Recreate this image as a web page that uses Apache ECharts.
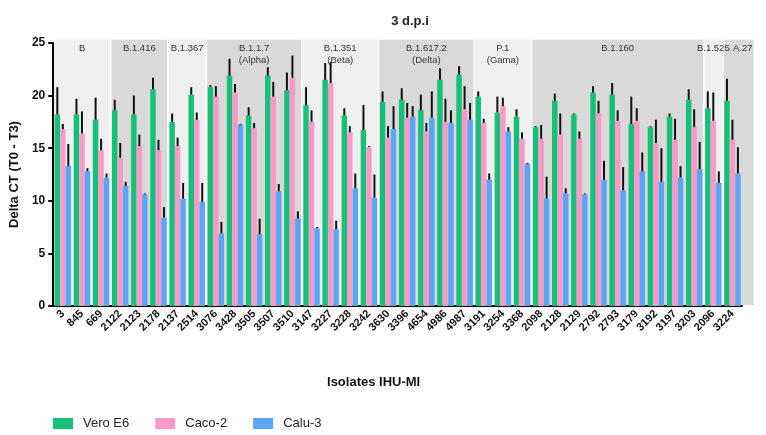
<!DOCTYPE html>
<html><head><meta charset="utf-8">
<script src="https://cdn.jsdelivr.net/npm/echarts@6/dist/echarts.min.js"></script>
<style>html,body{margin:0;padding:0;background:#fff}#c{width:766px;height:435px}</style>
</head><body><div id="c"></div>
<script>
const categories = ['3','845','669','2122','2123','2178','2137','2514','3076','3428','3505','3507','3510','3147','3227','3228','3242','3630','3396','4654','4986','4987','3191','3254','3368','2098','2128','2129','2792','2793','3179','3192','3197','3203','2096','3224'];
const vero     = [18.2,18.2,17.7,18.6,18.2,20.6,17.5,20.1,20.8,21.9,18.1,21.9,20.5,19.1,21.5,18.1,16.7,19.4,19.6,18.6,21.5,22.0,19.9,18.4,18.0,17.0,19.5,18.2,20.3,20.1,17.3,17.0,18.0,19.6,18.8,19.5];
const veroHigh = [20.8,19.7,19.8,19.6,20.0,21.7,18.3,20.8,21.0,23.5,18.9,22.7,22.2,20.8,23.1,18.8,19.1,20.4,20.7,20.1,22.6,22.8,20.4,19.9,18.7,17.1,20.2,18.3,20.9,21.2,19.9,17.1,18.3,20.6,20.4,21.6];
const caco     = [16.8,16.4,14.8,14.1,15.2,14.8,15.2,17.7,19.9,20.3,16.9,19.9,21.7,17.5,21.2,16.5,15.1,16.0,17.9,16.6,17.5,18.7,17.4,19.0,15.9,15.9,16.3,15.9,18.3,17.6,17.6,15.5,15.8,17.0,17.6,15.8];
const cacoHigh = [17.3,18.5,15.9,15.5,16.3,15.8,16.0,18.4,20.9,21.1,17.4,21.3,23.8,18.6,23.2,17.1,15.2,17.1,19.3,17.4,19.7,20.9,17.8,19.8,16.5,17.2,18.3,16.6,19.5,18.6,18.8,17.7,17.8,18.7,20.3,17.7];
const calu     = [13.3,12.8,12.2,11.4,10.6,8.4,10.2,9.9,6.9,17.2,6.8,10.9,8.3,7.4,7.3,11.2,10.3,16.8,18.0,17.9,17.4,17.7,12.0,16.6,13.5,10.2,10.7,10.6,12.0,11.0,12.8,11.8,12.2,13.0,11.7,12.6];
const caluHigh = [15.4,13.1,12.6,11.8,10.7,9.4,11.7,11.7,8.0,17.3,8.3,11.6,9.0,7.5,8.1,12.6,12.5,19.0,19.0,20.4,18.6,19.3,12.6,17.0,13.6,12.3,11.2,10.7,13.8,13.2,14.6,15.0,13.3,15.6,12.8,15.1];
const groupNames = ['B','B.1.416','B.1.367','B.1.1.7\n(Alpha)','B.1.351\n(Beta)','B.1.617.2\n(Delta)','P.1\n(Gama)','B.1.160','B.1.525','A.27'];
const groupSizes = [3,3,2,5,4,5,3,9,1,1];
const seriesNames = ['Vero E6','Caco-2','Calu-3'];
const colors = ['#17c07a','#f79ac8','#5aa5f6'];

const groupData = [];
let s = 0;
groupSizes.forEach((n, i) => { groupData.push([s, s + n - 1, i]); s += n; });

const chart = echarts.init(document.getElementById('c'), null, {renderer: 'canvas'});
const FONT = 'Liberation Sans, Arial, sans-serif';
const barCatGap = 0.14;

function errSeries(means, highs, k) {
  return {
    type: 'custom', z: 5, silent: true, clip: false,
    data: means.map((m, i) => [i, m, highs[i]]),
    renderItem: function (params, api) {
      const bw = api.size([1, 0])[0];
      const barW = bw * (1 - barCatGap) / 3;
      const p0 = api.coord([api.value(0), api.value(1)]);
      const p1 = api.coord([api.value(0), api.value(2)]);
      const x = p0[0] + k * barW;
      return {type: 'line', shape: {x1: x, y1: p0[1], x2: x, y2: p1[1]}, style: {stroke: '#111', lineWidth: 2}};
    }
  };
}

const option = {
  backgroundColor: '#fff',
  animation: false,
  title: {text: '3 d.p.i', left: 405, top: 10, textAlign: 'center',
    textStyle: {fontFamily: FONT, fontSize: 13, fontWeight: 'bold', color: '#222'}},
  legend: {data: seriesNames, left: 53, top: 417, padding: 0, itemWidth: 20, itemHeight: 11, itemGap: 26,
    icon: 'rect', textStyle: {fontFamily: FONT, fontSize: 13, color: '#222', padding: [0, 0, 0, 5]}},
  grid: {left: 51, right: 24, top: 43, bottom: 129, containLabel: false},
  xAxis: {
    type: 'category', data: categories, boundaryGap: true,
    name: 'Isolates IHU-MI', nameLocation: 'middle', nameGap: 70,
    nameTextStyle: {fontFamily: FONT, fontSize: 13, fontWeight: 'bold', color: '#111', padding: [0, 48, 0, 0]},
    axisLine: {lineStyle: {color: '#000', width: 2}},
    axisTick: {alignWithLabel: true, length: 5, lineStyle: {color: '#000', width: 2}},
    axisLabel: {rotate: 45, interval: 0, margin: 6, fontFamily: FONT, fontSize: 11, fontWeight: 'bold', color: '#111'},
    splitLine: {show: false}
  },
  yAxis: {
    type: 'value', min: 0, max: 25, interval: 5,
    name: 'Delta CT (T0 - T3)', nameLocation: 'middle', nameGap: 24,
    nameTextStyle: {fontFamily: FONT, fontSize: 13, fontWeight: 'bold', color: '#111'},
    axisLine: {show: true, lineStyle: {color: '#000', width: 2}},
    axisTick: {show: true, length: 5, lineStyle: {color: '#000', width: 2}},
    axisLabel: {margin: 8, fontFamily: FONT, fontSize: 12, fontWeight: 'bold', color: '#111'},
    splitLine: {show: false}
  },
  series: [
    {
      type: 'custom', z: 0, silent: true, clip: false,
      data: groupData,
      renderItem: function (params, api) {
        const bw = api.size([1, 0])[0];
        const a = api.coord([api.value(0), 0]);
        const b = api.coord([api.value(1), 25.3]);
        const idx = api.value(2);
        const last = idx === groupNames.length - 1;
        const x0 = a[0] - bw / 2 + (idx === 0 ? 1 : 0.8);
        const x1 = b[0] + bw / 2 - 0.8 + (last ? bw * 0.65 : 0);
        const yTop = b[1], yBot = a[1] - 1;
        return {
          type: 'group',
          children: [
            {type: 'rect', z2: 0, shape: {x: x0, y: yTop, width: x1 - x0, height: yBot - yTop},
              style: {fill: idx % 2 === 0 ? '#efefef' : '#d9d9d9'}},
            {type: 'text', z2: 20, style: {text: groupNames[idx], x: last ? x1 - 1 : (x0 + x1) / 2, y: yTop + 2,
              align: last ? 'right' : 'center', verticalAlign: 'top', fontFamily: FONT, fontSize: 9.5, lineHeight: 12.5, fill: '#333'}}
          ]
        };
      }
    },
    {name: seriesNames[0], type: 'bar', data: vero, barGap: '0%', barCategoryGap: '14%', itemStyle: {color: colors[0]}, z: 2},
    {name: seriesNames[1], type: 'bar', data: caco, barGap: '0%', barCategoryGap: '14%', itemStyle: {color: colors[1]}, z: 2},
    {name: seriesNames[2], type: 'bar', data: calu, barGap: '0%', barCategoryGap: '14%', itemStyle: {color: colors[2]}, z: 2},
    errSeries(vero, veroHigh, -1),
    errSeries(caco, cacoHigh, 0),
    errSeries(calu, caluHigh, 1)
  ]
};
chart.setOption(option);
</script></body></html>
